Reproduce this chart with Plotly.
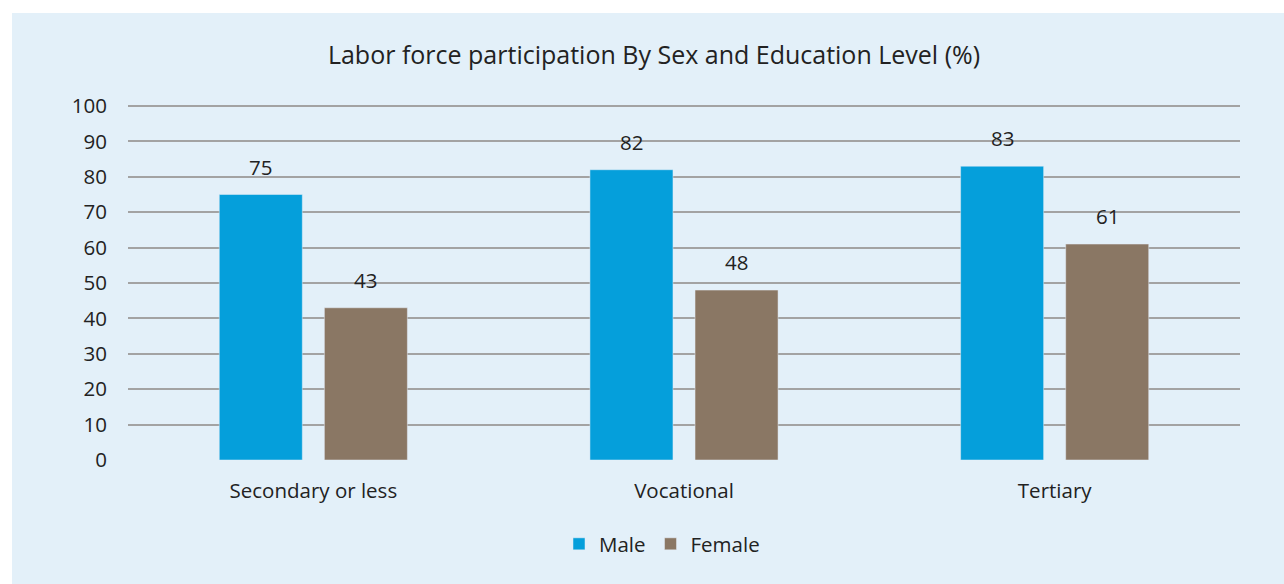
import plotly.graph_objects as go

categories = ["Secondary or less", "Vocational", "Tertiary"]
male = [75, 82, 83]
female = [43, 48, 61]
male_labels = ["75", "82", "83"]
female_labels = ["43", "48", "61"]
y_ticks = [0, 10, 20, 30, 40, 50, 60, 70, 80, 90, 100]

FONT = "Open Sans"
BG = "#E3F0F9"
TXT = "#222222"
L, R, T, B = 128, 44, 104, 124
W, H = 1284, 584
PW, PH = W - L - R, H - T - B
Y_TOP = 100 * PH / 354.0  # keeps 100 at the same pixel while leaving room for its gridline

def px_x(px):
    return (px - L) / PW

def px_y(py):
    return (H - B - py) / PH

fig = go.Figure()
fig.add_trace(go.Bar(x=categories, y=male, name="Male", marker_color="#059FDB"))
fig.add_trace(go.Bar(x=categories, y=female, name="Female", marker_color="#8A7764"))

for cat, v, lab in zip(categories, male, male_labels):
    fig.add_annotation(x=cat, y=v, text=lab, showarrow=False, xshift=-52.5, yshift=12,
                       yanchor="bottom", font=dict(family=FONT, size=20.5, color=TXT))
for cat, v, lab in zip(categories, female, female_labels):
    fig.add_annotation(x=cat, y=v, text=lab, showarrow=False, xshift=52.5, yshift=12,
                       yanchor="bottom", font=dict(family=FONT, size=20.5, color=TXT))

fig.add_shape(type="rect", xref="paper", yref="paper", layer="below",
              x0=px_x(12), x1=px_x(W + 5), y0=px_y(H + 5), y1=px_y(13),
              fillcolor=BG, line=dict(width=0))

fig.update_layout(
    width=W, height=H,
    margin=dict(l=L, r=R, t=T, b=B),
    paper_bgcolor="white",
    plot_bgcolor="rgba(0,0,0,0)",
    barmode="group",
    bargap=0.433,
    bargroupgap=0.21,
    font=dict(family=FONT, size=20.5, color=TXT),
    title=dict(text="Labor force participation By Sex and Education Level (%)",
               x=654 / W, xanchor="center", y=1 - 55 / H, yanchor="middle",
               font=dict(family=FONT, size=25, color=TXT)),
    legend=dict(orientation="h", x=px_x(662), xanchor="center", y=px_y(544), yanchor="middle",
                font=dict(family=FONT, size=20.5, color=TXT), bgcolor="rgba(0,0,0,0)",
                itemwidth=30, traceorder="normal"),
    showlegend=True,
)
fig.update_yaxes(range=[0, Y_TOP], tickvals=y_ticks, showgrid=True, gridcolor="#A3A3A3", gridwidth=1.5,
                 zeroline=False, showline=False, ticks="", ticklabelstandoff=20,
                 tickfont=dict(family=FONT, size=20.5, color=TXT))
fig.update_xaxes(showgrid=False, showline=False, zeroline=False, ticks="", ticklabelstandoff=16,
                 tickfont=dict(family=FONT, size=20.5, color=TXT))

fig.write_html("out.html", config={"displayModeBar": False},
               post_script="document.body.style.margin='0';")
